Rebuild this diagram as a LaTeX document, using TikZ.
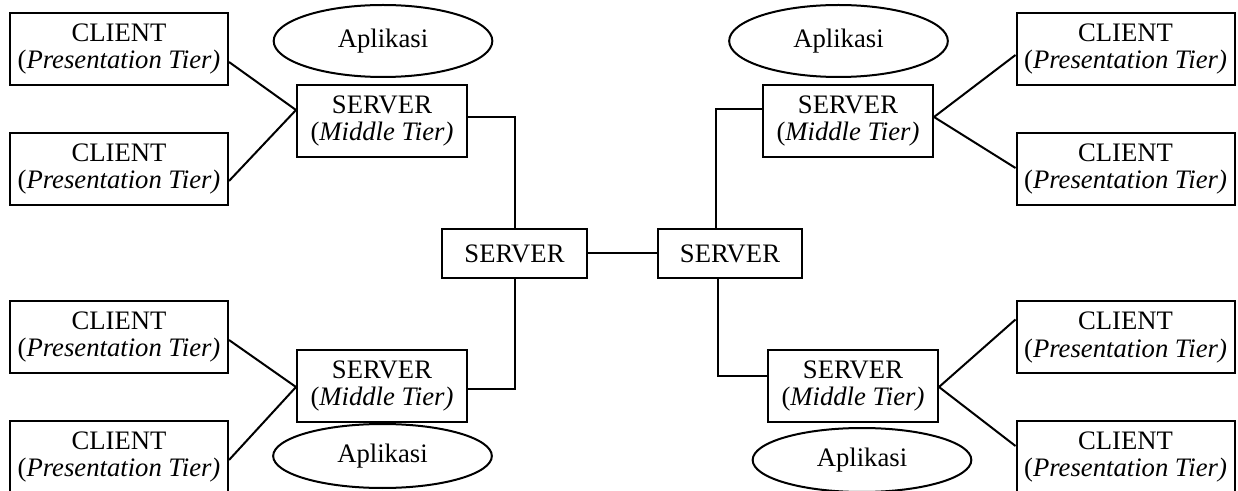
\documentclass[tikz,border=0pt]{standalone}
\usepackage{fontspec}
\setmainfont{Liberation Serif}
\usetikzlibrary{shapes.geometric,calc}
\begin{document}
\begin{tikzpicture}[x=0.75pt,y=-0.75pt,
  every node/.style={font=\fontsize{20}{20.5}\selectfont, inner sep=0pt, align=center},
  box/.style={draw, line width=1.5pt, rectangle},
  client/.style={box, minimum width=163.5pt, minimum height=54pt},
  mid/.style={box, minimum width=127.5pt, minimum height=54pt},
  core/.style={box, minimum width=108.5pt, minimum height=37pt},
  app/.style={draw, line width=1.5pt, ellipse, minimum width=164pt, minimum height=54pt},
  link/.style={line width=1.5pt}]
\useasboundingbox (0,0) rectangle (1238,491);

% application ellipses
\node[app] (a1) at (383,41) {Aplikasi};
\node[app] (a2) at (838.5,41) {Aplikasi};
\node[app, minimum height=48pt] (a3) at (382.5,456) {Aplikasi};
\node[app, minimum height=48pt] (a4) at (862,460) {Aplikasi};

% presentation tier clients
\node[client] (c1) at (119,49) {CLIENT\\(\textit{Presentation Tier)}};
\node[client] (c2) at (119,169) {CLIENT\\(\textit{Presentation Tier)}};
\node[client] (c3) at (119,337) {CLIENT\\(\textit{Presentation Tier)}};
\node[client] (c4) at (119,457) {CLIENT\\(\textit{Presentation Tier)}};
\node[client] (c5) at (1125.5,49) {CLIENT\\(\textit{Presentation Tier)}};
\node[client] (c6) at (1125.5,169) {CLIENT\\(\textit{Presentation Tier)}};
\node[client] (c7) at (1125.5,337.5) {CLIENT\\(\textit{Presentation Tier)}};
\node[client] (c8) at (1125.5,457) {CLIENT\\(\textit{Presentation Tier)}};

% middle tier servers
\node[mid] (m1) at (382,121) {SERVER\\(\textit{Middle Tier)}};
\node[mid] (m2) at (848,121) {SERVER\\(\textit{Middle Tier)}};
\node[mid] (m3) at (382,386) {SERVER\\(\textit{Middle Tier)}};
\node[mid] (m4) at (853,386) {SERVER\\(\textit{Middle Tier)}};

% core servers
\node[core] (s1) at (514.5,253.5) {SERVER};
\node[core] (s2) at (730,253.5) {SERVER};

% client to middle tier links
\draw[link] ($(c1.east)+(0,13)$) -- ($(m1.west)+(0,-11)$) -- ($(c2.east)+(0,12)$);
\draw[link] ($(c3.east)+(0,3)$) -- ($(m3.west)+(0,1)$) -- ($(c4.east)+(0,3)$);
\draw[link] ($(c5.west)+(0,6)$) -- ($(m2.east)+(0,-4)$) -- ($(c6.west)+(0,-1)$);
\draw[link] ($(c7.west)+(0,-18)$) -- ($(m4.east)+(0,1)$) -- ($(c8.west)+(0,-11)$);

% middle tier to core links
\draw[link] ($(m1.east)+(0,-4)$) -| (s1.north);
\draw[link] (s1.south) |- ($(m3.east)+(0,3)$);
\draw[link] ($(s2.north)+(-14,0)$) |- ($(m2.west)+(0,-12)$);
\draw[link] ($(s2.south)+(-12,0)$) |- ($(m4.west)+(0,-10)$);
\draw[link] (s1.east) -- (s2.west);
\end{tikzpicture}
\end{document}
